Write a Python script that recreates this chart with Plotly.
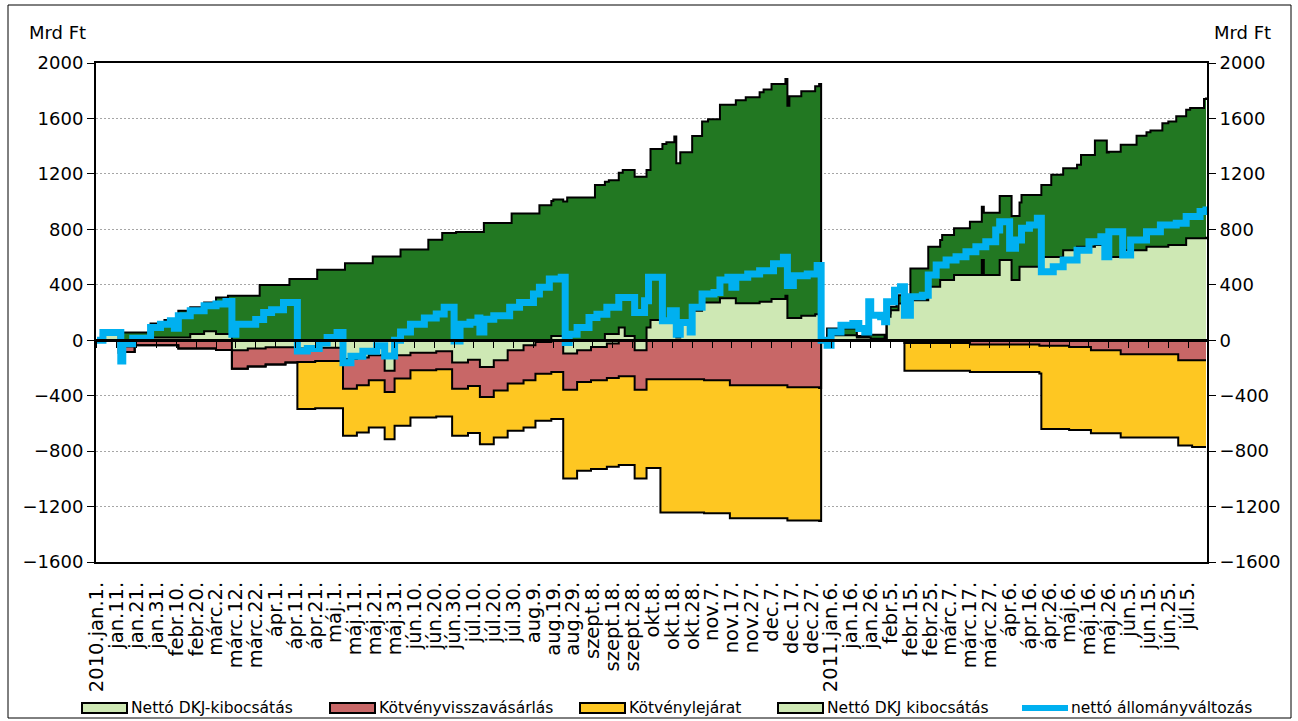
import numpy as np
import plotly.graph_objects as go

# ---------------- x axis: day index counted from 2010-01-01 ----------------
tick_days = list(range(0, 551, 10))
tick_labels = [
    "2010.jan.1.", "jan.11.", "jan.21.", "jan.31.", "febr.10.", "febr.20.",
    "márc.2.", "márc.12.", "márc.22.", "ápr.1.", "ápr.11.", "ápr.21.",
    "máj.1.", "máj.11.", "máj.21.", "máj.31.", "jún.10.", "jún.20.",
    "jún.30.", "júl.10.", "júl.20.", "júl.30.", "aug.9.", "aug.19.",
    "aug.29.", "szept.8.", "szept.18.", "szept.28.", "okt.8.", "okt.18.",
    "okt.28.", "nov.7.", "nov.17.", "nov.27.", "dec.7.", "dec.17.",
    "dec.27.", "2011.jan.6.", "jan.16.", "jan.26.", "febr.5.", "febr.15.",
    "febr.25.", "márc.7.", "márc.17.", "márc.27.", "ápr.6.", "ápr.16.",
    "ápr.26.", "máj.6.", "máj.16.", "máj.26.", "jún.5.", "jún.15.",
    "jún.25.", "júl.5.",
]
last_day = 559

# ---------------- series (step changes: day index -> value, Mrd Ft) ----------------
# Nettó DKJ-kibocsátás (negative part)
dkjneg_days = [0, 11, 13, 19, 68, 76, 85, 101, 110, 124, 131, 137, 145, 150, 158, 171,
               179, 187, 193, 200, 207, 215, 221, 229, 235, 242, 249, 257, 263, 271, 277]
dkjneg_vals = [0, -90, -45, 0, -72, -60, -50, -60, -55, -135, -125, -108, -220, -108, -90, -80,
               -160, -140, -193, -145, -72, -36, -12, 0, -96, -72, -48, -24, 0, -72, 0]

# Kötvényvisszavásárlás
viss_days = [0, 13, 19, 41, 60, 68, 76, 85, 95, 101, 110, 124, 131, 137, 145, 150, 158, 171,
             179, 193, 207, 215, 221, 235, 242, 249, 257, 263, 271, 277, 306, 319, 348, 364,
             365, 368, 407, 440, 475, 490, 501, 516, 545]
viss_vals = [0, -40, -36, -60, -70, -133, -130, -125, -110, -97, -95, -215, -200, -181, -154, -169, -127, -130,
             -190, -217, -241, -253, -229, -261, -229, -241, -248, -260, -285, -282, -289, -325, -340, -345,
             0, -5, -20, -30, -40, -48, -72, -101, -145]

# Kötvénylejárat
lej_days = [0, 101, 235, 284, 365, 407, 476, 545, 552]
lej_vals = [0, -340, -640, -960, 0, -200, -600, -615, -625]

# Nettó DKJ kibocsátás (positive part)
dkjpos_days = [0, 2, 11, 27, 47, 54, 60, 68, 229, 235, 256, 263, 266, 271, 277, 279, 291, 292,
               294, 300, 305, 314, 322, 334, 340, 347, 348, 355, 362, 365, 368, 383, 390, 397,
               398, 400, 404, 410, 419, 425, 432, 446, 447, 455, 461, 465, 476, 487, 494, 503,
               509, 516, 529, 540, 549, 559]
dkjpos_vals = [0, 50, 0, 20, 45, 65, 45, 0, 31, 0, 44, 92, 31, 0, 92, 145, 104, 19,
               116, 213, 273, 302, 266, 278, 297, 321, 160, 176, 188, 0, 36, 20, 10, 0,
               169, 217, 265, 289, 386, 434, 470, 578, 470, 578, 434, 530, 600, 650, 675, 687,
               600, 650, 675, 687, 735, 747]

# Kötvénykibocsátás (dark green area, no legend entry in the original)
kib_days = [0, 13, 27, 34, 41, 47, 54, 60, 66, 68, 82, 97, 111, 125, 139, 153, 167, 174, 181,
            195, 209, 223, 230, 235, 237, 251, 256, 258, 263, 265, 266, 271, 277, 279, 285,
            287, 291, 292, 294, 300, 305, 308, 314, 322, 327, 334, 336, 340, 347, 348, 349,
            355, 362, 364, 365, 368, 383, 389, 390, 397, 398, 403, 410, 419, 426, 432, 440,
            447, 455, 466, 476, 481, 487, 496, 503, 510, 524, 531, 537, 544, 551, 558]
kib_vals = [0, 56, 100, 125, 193, 192, 208, 264, 276, 321, 399, 442, 508, 556, 604, 655, 725, 773, 780,
            846, 914, 974, 984, 1000, 1030, 1119, 1099, 1111, 1116, 1136, 1197, 1180, 1136, 1235, 1271,
            1283, 1366, 1257, 1240, 1261, 1305, 1322, 1397, 1465, 1487, 1511, 1530, 1552, 1564, 1532, 1600,
            1620, 1644, 1661, 0, 48, 10, 80, 30, 0, 24, 60, 229, 289, 325, 337, 385,
            450, 463, 518, 520, 593, 591, 662, 754, 760, 825, 838, 891, 928, 940, 1005]

# nettó állományváltozás (line)
net_days = [0, 3, 12, 13, 18, 27, 32, 37, 39, 41, 47, 54, 60, 65, 68, 70, 80, 84, 88, 94,
            101, 106, 112, 116, 121, 124, 128, 134, 141, 145, 150, 153, 158, 165, 171, 175,
            180, 183, 188, 192, 193, 195, 200, 208, 213, 220, 223, 228, 234, 236, 238, 242,
            248, 252, 257, 263, 271, 276, 278, 285, 289, 292, 294, 299, 300, 305, 311, 314,
            318, 320, 322, 328, 334, 341, 346, 348, 351, 358, 363, 365, 368, 370, 375, 381,
            384, 387, 389, 390, 395, 397, 398, 402, 405, 407, 410, 416, 419, 423, 428, 433,
            438, 443, 448, 453, 455, 460, 463, 466, 470, 474, 476, 482, 487, 494, 500, 506,
            508, 510, 517, 521, 529, 536, 544, 549, 556, 559]
net_vals = [0, 56, -150, -25, 15, 92, 116, 140, 87, 176, 212, 249, 261, 280, 43, 116, 150, 200, 220, 273,
            -77, -60, -20, 20, 56, -162, -116, -80, -40, -113, 0, 60, 116, 160, 190, 237,
            -5, 116, 130, 160, 60, 152, 176, 237, 273, 333, 382, 442, 454, -17, 43, 92,
            164, 188, 237, 309, 200, 285, 454, 140, 213, 43, 128, 60, 237, 333, 345, 435,
            454, 382, 454, 478, 502, 551, 599, 394, 466, 478, 539, 0, -36, 60, 108, 120,
            84, 60, 277, 180, 169, 133, 277, 361, 386, 180, 313, 325, 470, 542, 578, 602,
            639, 675, 711, 795, 855, 663, 723, 807, 831, 880, 494, 530, 578, 650, 711, 747,
            602, 783, 614, 723, 783, 831, 843, 892, 928, 964]

# ---------------- common step grid ----------------
grid = np.array(sorted(set(dkjneg_days) | set(viss_days) | set(lej_days) |
                       set(dkjpos_days) | set(kib_days) | {last_day}))


def on_grid(days, vals):
    d = np.asarray(days)
    v = np.asarray(vals, dtype=float)
    idx = np.searchsorted(d, grid, side="right") - 1
    return np.where(idx >= 0, v[np.clip(idx, 0, None)], 0.0)


neg1 = on_grid(dkjneg_days, dkjneg_vals)
neg2 = neg1 + on_grid(viss_days, viss_vals)
neg3 = neg2 + on_grid(lej_days, lej_vals)
pos1 = on_grid(dkjpos_days, dkjpos_vals)
pos2 = pos1 + on_grid(kib_days, kib_vals)

LIGHT = "#CEE8B4"
DARK = "#227822"
RED = "#C86767"
YELLOW = "#FEC722"
BLUE = "#00B0F0"
FONT = "DejaVu Sans"

# plot-area geometry (pixels) used for legend placement in paper coordinates
W, H = 1298, 721
ML, MR, MT, MB = 96, 91, 63, 159
PW, PH = W - ML - MR, H - MT - MB


def px(xp):
    return (xp - ML) / PW


def py(yp):
    return (H - MB - yp) / PH


fig = go.Figure()
edge = dict(color="black", width=2, shape="hv")

fig.add_trace(go.Scatter(x=grid, y=neg1, name="Nettó DKJ-kibocsátás", mode="lines",
                         line=edge, fill="tozeroy", fillcolor=LIGHT))
fig.add_trace(go.Scatter(x=grid, y=neg2, name="Kötvényvisszavásárlás", mode="lines",
                         line=edge, fill="tonexty", fillcolor=RED))
fig.add_trace(go.Scatter(x=grid, y=neg3, name="Kötvénylejárat", mode="lines",
                         line=edge, fill="tonexty", fillcolor=YELLOW))
fig.add_trace(go.Scatter(x=grid, y=pos1, name="Nettó DKJ kibocsátás", mode="lines",
                         line=edge, fill="tozeroy", fillcolor=LIGHT))
fig.add_trace(go.Scatter(x=grid, y=pos2, name="Kötvénykibocsátás", mode="lines",
                         line=edge, fill="tonexty", fillcolor=DARK))
fig.add_trace(go.Scatter(x=net_days, y=net_vals, name="nettó állományváltozás", mode="lines",
                         line=dict(color=BLUE, width=7, shape="hv")))

# helpers so that the secondary axes are drawn
fig.add_trace(go.Scatter(x=[None], y=[None], xaxis="x2", yaxis="y", hoverinfo="skip"))
fig.add_trace(go.Scatter(x=[None], y=[None], xaxis="x", yaxis="y2", hoverinfo="skip"))

# ---------------- legend drawn as swatches + text ----------------
legend_items = [("Nettó DKJ-kibocsátás", LIGHT, 82),
                ("Kötvényvisszavásárlás", RED, 330),
                ("Kötvénylejárat", YELLOW, 580),
                ("Nettó DKJ kibocsátás", LIGHT, 778)]
LEG_Y = 708
shapes = [dict(type="rect", xref="paper", yref="paper", x0=px(8), x1=px(1291),
               y0=py(718), y1=py(5), line=dict(color="black", width=1), layer="below")]
annotations = [
    dict(text="Mrd Ft", xref="paper", yref="paper", x=px(57), y=py(32),
         showarrow=False, font=dict(size=18, family=FONT), xanchor="center", yanchor="middle"),
    dict(text="Mrd Ft", xref="paper", yref="paper", x=px(1242), y=py(32),
         showarrow=False, font=dict(size=18, family=FONT), xanchor="center", yanchor="middle"),
]
for name, col, x0 in legend_items:
    shapes.append(dict(type="rect", xref="paper", yref="paper", x0=px(x0), x1=px(x0 + 45),
                       y0=py(LEG_Y + 5), y1=py(LEG_Y - 5), fillcolor=col,
                       line=dict(color="black", width=2), layer="above"))
    annotations.append(dict(text=name, xref="paper", yref="paper", x=px(x0 + 47), y=py(LEG_Y),
                            xanchor="left", yanchor="middle", showarrow=False,
                            font=dict(size=15.5, family=FONT, color="black")))
shapes.append(dict(type="line", xref="paper", yref="paper", x0=px(1022), x1=px(1068),
                   y0=py(LEG_Y), y1=py(LEG_Y), line=dict(color=BLUE, width=6), layer="above"))
annotations.append(dict(text="nettó állományváltozás", xref="paper", yref="paper", x=px(1069),
                        y=py(LEG_Y), xanchor="left", yanchor="middle", showarrow=False,
                        font=dict(size=15.5, family=FONT, color="black")))

yr = [-1600, 2000]
xr = [-0.5, last_day + 0.5]

fig.update_layout(
    width=W, height=H,
    margin=dict(l=ML, r=MR, t=MT, b=MB, autoexpand=False),
    paper_bgcolor="white", plot_bgcolor="white",
    font=dict(family=FONT, color="black"),
    showlegend=False,
    hovermode=False,
    xaxis=dict(range=xr, tickmode="array", tickvals=tick_days, ticktext=tick_labels,
               tickangle=-90, ticks="", showgrid=False, zeroline=False, automargin=False,
               showline=True, linecolor="black", linewidth=2, mirror=True,
               tickfont=dict(size=19.5, family=FONT), ticklabelstandoff=10),
    xaxis2=dict(range=xr, overlaying="x", anchor="free", position=1600 / 3600,
                tickmode="array", tickvals=tick_days, ticks="outside", ticklen=6,
                tickcolor="black", tickwidth=1, showticklabels=False, showgrid=False,
                zeroline=False, showline=True, linecolor="black", linewidth=2.5,
                layer="above traces", automargin=False),
    yaxis=dict(range=yr, dtick=400, tick0=0, showgrid=True, gridcolor="#a6a6a6",
               griddash="2px,2px", gridwidth=1, zeroline=False, showline=True,
               linecolor="black", linewidth=2, ticks="outside", ticklen=7, automargin=False,
               tickcolor="black", tickfont=dict(size=18, family=FONT)),
    yaxis2=dict(range=yr, dtick=400, tick0=0, overlaying="y", side="right",
                showgrid=False, zeroline=False, showline=True, linecolor="black",
                linewidth=2, ticks="outside", ticklen=7, tickcolor="black", automargin=False,
                tickfont=dict(size=18, family=FONT)),
    annotations=annotations,
    shapes=shapes,
)

fig.write_html("out.html", config={"displayModeBar": False},
               post_script="document.body.style.margin='0px';")
